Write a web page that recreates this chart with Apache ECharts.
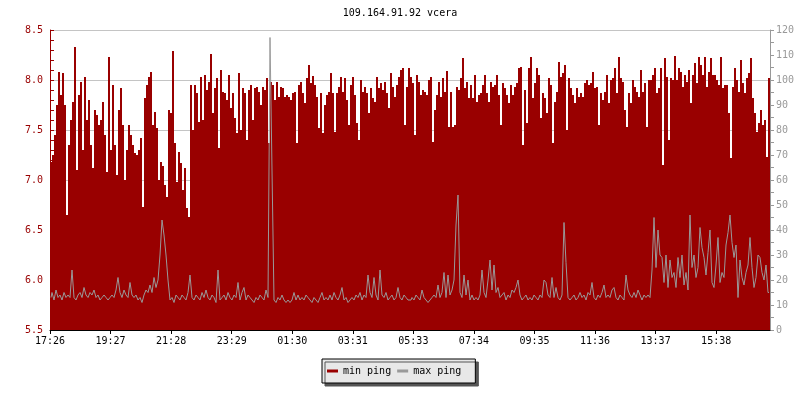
<!DOCTYPE html>
<html><head><meta charset="utf-8">
<script src="https://cdn.jsdelivr.net/npm/echarts@6/dist/echarts.min.js"></script>
<style>html,body{margin:0;padding:0;background:#fff}#c{width:800px;height:400px}</style>
</head><body><div id="c"></div>
<script>
const chartTitle = '109.164.91.92 vcera';
const timeLabels = ['17:26','19:27','21:28','23:29','01:30','03:31','05:33','07:34','09:35','11:36','13:37','15:38'];
const seriesNames = ['min ping', 'max ping'];
// one sample every 4 minutes, starting 17:26
const minPing = [
7.18,7.25,7.45,7.75,8.08,7.85,8.07,7.75,6.65,7.35,
7.6,7.78,8.33,7.1,7.85,7.98,7.3,8.03,7.6,7.8,
7.35,7.12,7.7,7.65,7.55,7.6,7.78,7.45,7.08,8.23,
7.3,7.95,7.35,7.05,7.7,7.92,7.55,7.0,7.3,7.55,
7.45,7.35,7.27,7.25,7.3,7.42,6.73,7.82,7.95,8.03,
8.08,7.55,7.68,7.52,7.0,7.18,7.14,6.95,6.83,7.7,
7.67,8.29,7.37,6.98,7.28,7.17,6.9,7.12,6.72,6.63,
7.95,7.5,7.95,7.87,7.58,8.03,7.6,8.05,7.9,7.98,
8.26,7.67,7.92,8.02,7.32,8.1,7.88,7.87,7.8,8.05,
7.72,7.87,7.62,7.47,8.07,7.5,7.92,7.87,7.4,7.9,
7.95,7.6,7.92,7.93,7.88,7.75,7.93,7.9,8.02,7.37,
7.98,7.95,7.8,7.98,7.83,7.93,7.92,7.83,7.85,7.83,
7.8,7.87,7.88,7.37,7.95,7.98,7.87,7.77,8.02,8.15,
7.97,8.04,7.95,7.83,7.52,7.87,7.47,7.75,7.85,7.88,
8.07,7.87,7.48,7.87,7.93,8.03,7.88,8.02,7.8,7.55,
7.95,8.03,7.85,7.57,7.4,8.0,7.88,7.93,7.87,7.67,
7.92,7.82,7.78,8.03,7.92,7.97,7.9,7.98,7.87,7.72,
8.07,7.93,7.83,7.95,8.03,8.1,8.12,7.55,7.93,8.12,
8.03,7.97,7.45,8.05,7.98,7.85,7.9,7.88,7.85,8.0,
8.03,7.38,7.7,7.85,7.98,7.83,8.02,7.88,8.09,7.53,
7.88,7.53,7.55,7.93,7.9,8.02,8.22,7.92,7.98,7.82,
7.95,7.82,8.05,7.78,7.85,7.87,7.95,8.05,7.87,7.78,
7.98,7.93,7.95,8.05,7.85,7.55,7.97,7.92,7.85,7.77,
7.95,7.85,7.93,7.97,8.12,8.13,7.35,7.9,7.57,8.12,
8.23,7.82,7.97,8.12,8.05,7.62,7.87,7.82,7.67,8.02,
7.95,7.37,7.78,7.88,8.18,8.03,8.07,8.15,7.5,8.02,
7.92,7.85,7.77,7.92,7.83,7.87,7.83,7.97,8.0,7.95,
7.97,8.08,7.92,7.93,7.55,7.87,7.8,7.88,8.05,7.77,
8.0,8.02,8.12,7.87,8.23,8.02,7.98,7.7,7.53,7.87,
7.77,8.0,7.93,7.88,7.83,8.1,7.88,7.97,7.53,8.0,
8.0,8.05,8.12,7.87,7.92,8.12,7.15,8.22,8.03,7.4,
8.02,8.0,8.24,8.0,8.12,8.08,7.93,8.05,7.98,8.1,
7.77,8.05,8.17,7.97,8.23,8.15,8.05,8.23,7.93,8.08,
8.22,8.05,8.05,8.0,7.95,8.23,7.92,7.95,7.95,7.67,
7.22,7.93,8.12,8.0,7.88,8.2,7.97,7.87,8.02,8.07,
8.22,7.82,7.67,7.48,7.57,7.7,7.55,7.6,7.23,8.02
];
const maxPing = [
13,15,12,16,13,14,12,15,13,14,
13,24,13,12,14,15,13,17,14,13,
15,14,16,13,14,12,13,14,13,12,
13,14,13,16,21,15,13,16,14,13,
19,14,13,14,12,13,11,14,16,15,
18,15,21,17,20,30,44,38,30,20,
12,13,11,14,13,12,14,13,12,15,
22,13,12,14,13,12,15,13,16,13,
12,14,13,11,24,12,13,14,12,15,
13,12,14,13,19,12,15,17,12,14,
13,12,11,13,12,14,13,12,16,13,
117,64,12,11,13,12,14,12,11,12,
11,12,15,12,14,12,13,12,14,13,
12,11,13,12,11,13,15,12,13,12,
14,12,15,13,12,14,17,12,13,11,
12,13,12,14,13,15,12,14,13,22,
15,13,21,14,12,24,14,13,15,12,
13,14,12,13,17,13,12,14,13,12,
12,13,12,14,13,12,16,13,12,11,
12,13,14,13,18,13,15,23,13,22,
14,16,20,42,54,15,13,22,14,20,
12,14,12,13,12,14,24,15,13,20,
28,16,26,15,17,13,14,15,12,14,
13,16,15,17,20,14,12,13,14,12,
13,12,14,13,12,14,13,20,19,14,
13,21,13,17,13,12,14,43,27,13,
12,13,14,12,13,15,13,14,12,15,
14,19,13,12,14,13,15,18,13,14,
13,16,17,13,12,14,13,12,22,16,
14,13,15,13,16,14,12,14,13,14,
13,24,45,25,40,30,29,19,30,17,
28,21,23,17,29,21,30,18,23,16,
46,25,30,21,25,41,33,29,22,31,
40,19,17,26,37,19,23,21,34,39,
46,35,29,34,13,28,21,18,23,26,
37,25,17,21,30,29,23,20,26,15
];
const sampleMinutes = 4;
const labelStepMinutes = 121.12;
const spanMinutes = 1440;

const FONT = 'DejaVu Sans Mono';
const RED = '#990000';
const GREY = '#999999';
const tickValues = timeLabels.map((_, k) => k * labelStepMinutes);
const minData = minPing.map((v, i) => [i * sampleMinutes + sampleMinutes / 2, v]);
const maxData = maxPing.map((v, i) => [i * sampleMinutes + sampleMinutes / 2, v]);

const chart = echarts.init(document.getElementById('c'), null, {renderer: 'canvas'});
chart.setOption({
  animation: false,
  backgroundColor: '#ffffff',
  title: {
    text: chartTitle, left: 'center', top: 8, padding: 0,
    textStyle: {fontFamily: FONT, fontSize: 10, fontWeight: 'normal', color: '#000'}
  },
  legend: {
    data: [
      {name: seriesNames[0], icon: 'rect', itemStyle: {color: RED}},
      {name: seriesNames[1], icon: 'rect', itemStyle: {color: GREY}}
    ],
    left: 322, top: 359, orient: 'horizontal',
    padding: [7, 14, 7, 5], itemGap: 6, itemWidth: 11, itemHeight: 3,
    backgroundColor: '#e8e8e8', borderColor: '#000', borderWidth: 1,
    shadowColor: '#555', shadowOffsetX: 3, shadowOffsetY: 3, shadowBlur: 0,
    textStyle: {fontFamily: FONT, fontSize: 10, color: '#000'}
  },
  grid: {left: 50, right: 30, top: 30, bottom: 70, containLabel: false},
  xAxis: {
    type: 'value', min: 0, max: spanMinutes, z: 10,
    axisLine: {show: true, onZero: false, lineStyle: {color: '#000', width: 1}},
    axisTick: {show: true, length: 4, customValues: tickValues, lineStyle: {color: '#000'}},
    axisLabel: {
      customValues: tickValues, margin: 6, color: '#000', fontFamily: FONT, fontSize: 10,
      formatter: v => { const k = Math.round(v / labelStepMinutes); return timeLabels[k] || ''; }
    },
    splitLine: {show: false}
  },
  yAxis: [
    {
      type: 'value', min: 5.5, max: 8.5, interval: 0.5, position: 'left',
      axisLine: {show: true, lineStyle: {color: RED}},
      axisTick: {show: true, inside: true, length: 4, lineStyle: {color: RED}},
      minorTick: {show: true, splitNumber: 5, length: 4, lineStyle: {color: RED}},
      axisLabel: {color: RED, fontFamily: FONT, fontSize: 10, margin: 7, formatter: v => v.toFixed(1)},
      splitLine: {show: true, lineStyle: {color: '#c4c4c4', width: 1}}
    },
    {
      type: 'value', min: 0, max: 120, interval: 10, position: 'right',
      axisLine: {show: true, lineStyle: {color: GREY}},
      axisTick: {show: true, inside: false, length: 4, lineStyle: {color: GREY}},
      minorTick: {show: true, splitNumber: 2, length: 4, lineStyle: {color: GREY}},
      axisLabel: {color: GREY, fontFamily: FONT, fontSize: 10, margin: 6},
      splitLine: {show: false}
    }
  ],
  series: [
    {
      name: seriesNames[0], type: 'bar', yAxisIndex: 0, data: minData,
      barWidth: 2, barGap: '0%', large: false, z: 2, clip: true,
      itemStyle: {color: RED, borderWidth: 0}
    },
    {
      name: seriesNames[1], type: 'line', yAxisIndex: 1, data: maxData,
      step: 'middle', smooth: false, sampling: 'none',
      symbol: 'none', showSymbol: false, z: 3, color: GREY,
      lineStyle: {color: GREY, width: 1}
    }
  ]
});
</script></body></html>
